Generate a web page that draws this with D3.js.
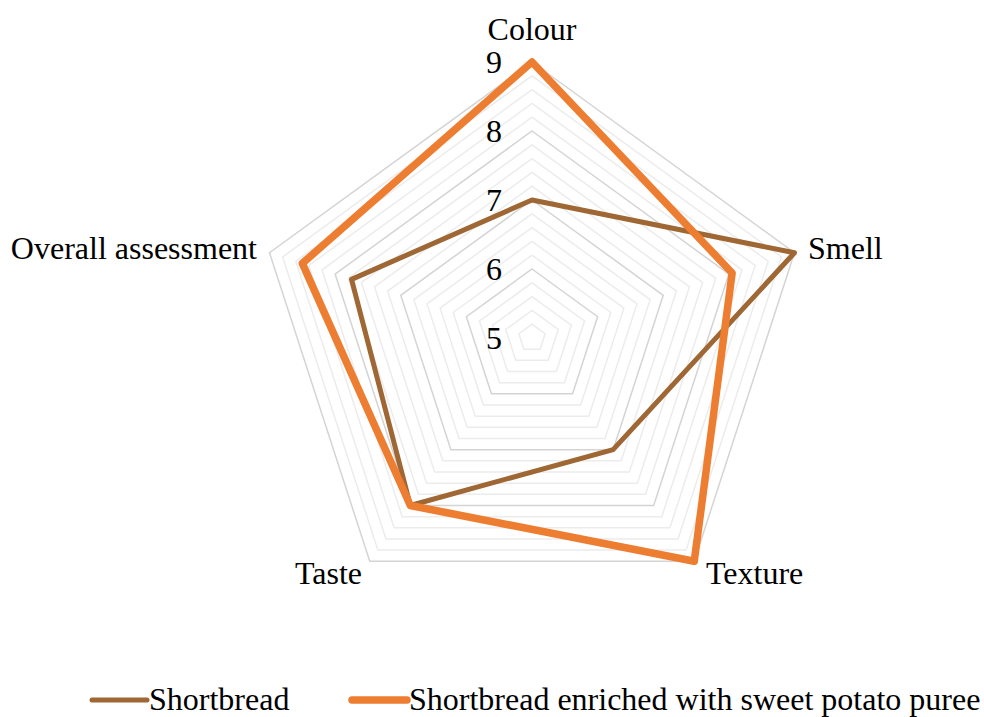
<!DOCTYPE html>
<html>
<head>
<meta charset="utf-8">
<script src="https://cdn.jsdelivr.net/npm/d3@7"></script>
<style>
  body { margin: 0; background: #fff; }
  svg { font-family: "Liberation Serif", "Times New Roman", serif; }
</style>
</head>
<body>
<svg width="984" height="717"></svg>
<script>
const categories = ['Colour', 'Smell', 'Texture', 'Taste', 'Overall assessment'];
const shortbread = [7, 9, 7, 8, 7.75];
const enriched = [9, 8.05, 9, 8, 8.5];
const seriesNames = ['Shortbread', 'Shortbread enriched with sweet potato puree'];
const ticks = [5, 6, 7, 8, 9];

const svg = d3.select('svg');
const cx = 532, cy = 338;
const r = d3.scaleLinear().domain([5, 9]).range([0, 276]);
const angle = i => -Math.PI / 2 + i * 2 * Math.PI / categories.length;

// grid, minor every 0.2, major every 1
const gridVals = d3.range(52, 91, 2).map(v => v / 10);
const grid = svg.append('g');
gridVals.forEach(v => {
  const major = Math.abs(v - Math.round(v)) < 1e-6;
  grid.append('polygon')
    .attr('points', categories.map((c, i) => [cx + r(v) * Math.cos(angle(i)), cy + r(v) * Math.sin(angle(i))].join(',')).join(' '))
    .attr('fill', 'none')
    .attr('stroke', major ? '#d4d4d4' : '#ececec')
    .attr('stroke-width', 1.5);
});

// tick labels
svg.append('g').selectAll('text')
  .data(ticks)
  .enter()
  .append('text')
  .attr('x', 502)
  .attr('y', d => cy - r(d))
  .attr('dy', '0.35em')
  .attr('text-anchor', 'end')
  .attr('font-size', 32)
  .text(d => d);

// category labels
const labelPos = [
  {x: 532, y: 29, anchor: 'middle'},
  {x: 808, y: 248, anchor: 'start'},
  {x: 706, y: 573, anchor: 'start'},
  {x: 362, y: 573, anchor: 'end'},
  {x: 257, y: 248, anchor: 'end'}
];
svg.append('g').selectAll('text')
  .data(categories)
  .enter()
  .append('text')
  .attr('x', (d, i) => labelPos[i].x)
  .attr('y', (d, i) => labelPos[i].y)
  .attr('dy', '0.35em')
  .attr('text-anchor', (d, i) => labelPos[i].anchor)
  .attr('font-size', 32)
  .text(d => d);

const line = d3.lineRadial()
  .angle((d, i) => i * 2 * Math.PI / categories.length)
  .radius(d => r(d))
  .curve(d3.curveLinearClosed);

const series = [
  {name: seriesNames[0], values: shortbread, color: '#9e6733', width: 5},
  {name: seriesNames[1], values: enriched, color: '#ed7d31', width: 7.5}
];

svg.append('g')
  .attr('transform', `translate(${cx},${cy})`)
  .selectAll('path')
  .data(series)
  .enter()
  .append('path')
  .attr('d', d => line(d.values))
  .attr('fill', 'none')
  .attr('stroke', d => d.color)
  .attr('stroke-width', d => d.width)
  .attr('stroke-linejoin', 'round');

// legend
const legendX = [92, 352];
const leg = svg.append('g').selectAll('g')
  .data(series)
  .enter()
  .append('g')
  .attr('transform', (d, i) => `translate(${legendX[i]},700)`);
leg.append('line')
  .attr('x1', 0).attr('x2', 55)
  .attr('stroke', d => d.color)
  .attr('stroke-width', d => d.width)
  .attr('stroke-linecap', 'round');
leg.append('text')
  .attr('x', 57)
  .attr('dy', '0.32em')
  .attr('font-size', 32)
  .text(d => d.name);
</script>
</body>
</html>
